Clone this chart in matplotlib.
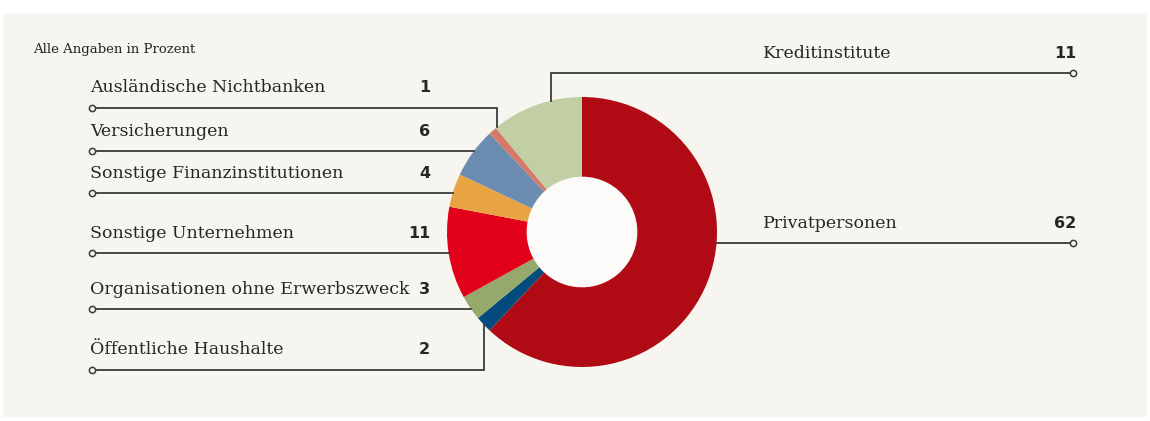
import numpy as np
import matplotlib
matplotlib.use("Agg")
import matplotlib.pyplot as plt
from matplotlib.patches import Rectangle, Circle

# Data (share in percent), clockwise from 12 o'clock
categories = ["Privatpersonen", "Öffentliche Haushalte", "Organisationen ohne Erwerbszweck",
              "Sonstige Unternehmen", "Sonstige Finanzinstitutionen", "Versicherungen",
              "Ausländische Nichtbanken", "Kreditinstitute"]
values = [62, 2, 3, 11, 4, 6, 1, 11]
colors = ["#b00a14", "#034b7c", "#97a86b", "#e2001a", "#e8a342", "#6a8cb0", "#d57a68", "#c2cea4"]

# label layout: (category, side, leader y in px, elbow x in px or None)
left_labels = [
    ("Ausländische Nichtbanken", 108, 497),
    ("Versicherungen", 151, None),
    ("Sonstige Finanzinstitutionen", 193, None),
    ("Sonstige Unternehmen", 253, None),
    ("Organisationen ohne Erwerbszweck", 309, None),
    ("Öffentliche Haushalte", 370, 484),
]
right_labels = [
    ("Kreditinstitute", 73, 551),
    ("Privatpersonen", 243, None),
]

W, H = 1150, 421
CX, CY, R = 582, 232, 135
LINE = "#3a3a3a"
TXT = "#262626"
BG = "#f7f5f0"


def py(y):
    # pixel row (top-down) -> data y
    return H - y


fig = plt.figure(figsize=(W / 100, H / 100), dpi=100)
fig.patch.set_facecolor("white")
ax = fig.add_axes([0, 0, 1, 1])
ax.add_patch(Rectangle((3, py(417)), 1144, 404, facecolor=BG, edgecolor="none", zorder=0))

ax.pie(values, colors=colors, startangle=90, counterclock=False, radius=R,
       center=(CX, py(CY)), wedgeprops=dict(width=R * 0.59, linewidth=0), frame=True)
ax.add_patch(Circle((CX, py(CY)), R * 0.41 - 0.5, facecolor="#fcfbf9", edgecolor="none", zorder=3))


def leader(x0, y, elbow, side):
    # from the marker to the ring edge, optionally with a vertical drop
    if elbow is None:
        dx = np.sqrt(R ** 2 - (y - CY) ** 2)
        x1 = CX - dx if side == "left" else CX + dx
        xs, ys = [x0, x1], [y, y]
    else:
        dy = np.sqrt(R ** 2 - (elbow - CX) ** 2)
        y1 = CY - dy if y < CY else CY + dy
        xs, ys = [x0, elbow, elbow], [y, y, y1]
    ax.plot(xs, [py(v) for v in ys], color=LINE, lw=1.3, zorder=4, solid_joinstyle="miter")
    ax.plot([x0], [py(y)], marker="o", ms=4.5, mfc=BG, mec=LINE, mew=1.1, zorder=5)


serif = ["DejaVu Serif"]
for name, y, elbow in left_labels:
    val = values[categories.index(name)]
    leader(92, y, elbow, "left")
    ax.text(90, py(y - 20), name, fontsize=12.5, family=serif, color=TXT, va="center", ha="left")
    ax.text(430, py(y - 20), str(val), fontsize=11.5, family="DejaVu Sans", fontweight="bold",
            color=TXT, va="center", ha="right")

for name, y, elbow in right_labels:
    val = values[categories.index(name)]
    leader(1073, y, elbow, "right")
    ax.text(763, py(y - 20), name, fontsize=12.5, family=serif, color=TXT, va="center", ha="left")
    ax.text(1076, py(y - 20), str(val), fontsize=11.5, family="DejaVu Sans", fontweight="bold",
            color=TXT, va="center", ha="right")

ax.text(33, py(50), "Alle Angaben in Prozent", fontsize=9.5, family=serif, color=TXT,
        va="center", ha="left")

ax.set_xlim(0, W)
ax.set_ylim(0, H)
ax.set_aspect("auto")
ax.axis("off")

fig.savefig("out.png", dpi=100, facecolor="white")
